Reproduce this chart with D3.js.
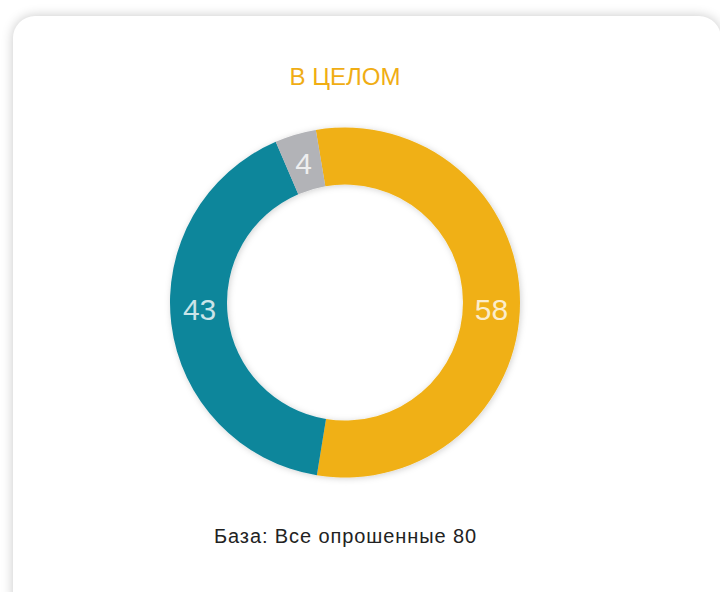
<!DOCTYPE html>
<html>
<head>
<meta charset="utf-8">
<script src="https://cdn.jsdelivr.net/npm/d3@7"></script>
<style>
  html, body { margin: 0; padding: 0; background: #fff; overflow: hidden; }
  #card {
    position: absolute; left: 13px; top: 16px; width: 708px; height: 600px;
    background: #fff; border-radius: 22px;
    box-shadow: 0 0 12px rgba(0,0,0,0.22);
  }
  svg { position: absolute; left: 0; top: 0; }
</style>
</head>
<body>
<div id="card"></div>
<div id="chart"></div>
<script>
const categories = ["Да", "Нет", "Затрудняюсь ответить"];
const values = [58, 43, 4];
const colors = ["#f0b014", "#11869b", "#b2b3b7"];
const title = "В ЦЕЛОМ";
const footer = "База: Все опрошенные 80";

const width = 720, height = 592;
const cx = 345, cy = 302.5;
const outerR = 175, innerR = 118;
const startAngle = -9.6 * Math.PI / 180;

const svg = d3.select("#chart").append("svg")
  .attr("width", width)
  .attr("height", height);

const defs = svg.append("defs");
const shadow = defs.append("filter")
  .attr("id", "shadow")
  .attr("x", "-20%").attr("y", "-20%")
  .attr("width", "140%").attr("height", "140%");
shadow.append("feDropShadow")
  .attr("dx", 1).attr("dy", 1)
  .attr("stdDeviation", 3)
  .attr("flood-color", "#000")
  .attr("flood-opacity", 0.18);

svg.append("text")
  .attr("x", 345)
  .attr("y", 85)
  .attr("text-anchor", "middle")
  .style("font-family", "'Liberation Sans', Arial, sans-serif")
  .style("font-size", "24px")
  .attr("fill", "#f0ad14")
  .text(title);

const pie = d3.pie()
  .sort(null)
  .startAngle(startAngle)
  .endAngle(startAngle + 2 * Math.PI);

const arc = d3.arc().innerRadius(innerR).outerRadius(outerR);
const labelR = (innerR + outerR) / 2;
const labelArc = d3.arc().innerRadius(labelR).outerRadius(labelR);

const g = svg.append("g")
  .attr("transform", `translate(${cx},${cy})`);

const arcs = pie(values);

g.append("g")
  .attr("filter", "url(#shadow)")
  .selectAll("path")
  .data(arcs)
  .join("path")
  .attr("d", arc)
  .attr("fill", (d, i) => colors[i]);

// labels sit on the ring; those near the sides are kept level with the centre
function labelPos(d) {
  const [x, y] = labelArc.centroid(d);
  const mid = (d.startAngle + d.endAngle) / 2;
  if (Math.abs(Math.cos(mid)) < 0.35) return [x, 17.5];
  return [x, y + 12];
}

g.selectAll(".lbl")
  .data(arcs)
  .join("text")
  .attr("class", "lbl")
  .attr("transform", d => `translate(${labelPos(d)})`)
  .attr("text-anchor", "middle")
  .style("font-family", "'Liberation Sans', Arial, sans-serif")
  .style("font-size", "30px")
  .attr("fill", "#fff")
  .attr("fill-opacity", 0.78)
  .text(d => d.data);

svg.append("text")
  .attr("x", 345.5)
  .attr("y", 543)
  .attr("text-anchor", "middle")
  .style("font-family", "'Liberation Sans', Arial, sans-serif")
  .style("font-size", "20px")
  .style("letter-spacing", "0.9px")
  .attr("fill", "#222")
  .text(footer);
</script>
</body>
</html>
